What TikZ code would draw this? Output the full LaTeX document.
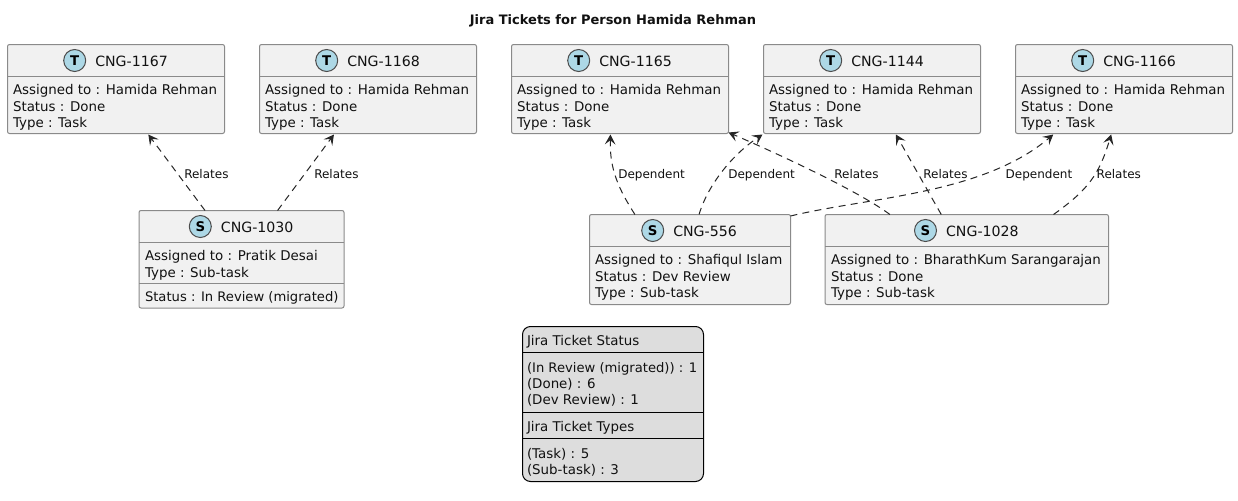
\documentclass[tikz,border=0pt]{standalone}
\usepackage{fontspec}
\setmainfont{DejaVu Sans}
\usetikzlibrary{arrows.meta,calc}
\definecolor{boxfill}{HTML}{F1F1F1}
\definecolor{boxline}{HTML}{8A8A8A}
\definecolor{legfill}{HTML}{DDDDDD}
\definecolor{spot}{HTML}{ADD8E6}
\definecolor{ink}{HTML}{111111}
\newcommand{\bodyfont}{\fontsize{10.05pt}{12pt}\selectfont}
\newcommand{\tightfont}{\fontsize{9.85pt}{12pt}\selectfont}
\newcommand{\headfont}{\fontsize{10.6pt}{12pt}\selectfont}
\newcommand{\edgefont}{\fontsize{9pt}{10pt}\selectfont}
\tikzset{
  x=0.75pt,y=-0.75pt,
  ticketbox/.style={draw=boxline,fill=boxfill,rounded corners=1.5pt,line width=0.75pt,inner sep=0pt,outer sep=0pt},
  legbox/.style={draw=black,fill=legfill,rounded corners=6pt,line width=0.75pt,inner sep=0pt,outer sep=0pt},
  txt/.style={anchor=base west,inner sep=0pt,outer sep=0pt,text=ink,font=\bodyfont},
  headtxt/.style={txt,font=\headfont},
  edgelabel/.style={anchor=base west,inner sep=0pt,outer sep=0pt,text=ink,font=\edgefont},
  spotc/.style={circle,draw=black!70,fill=spot,line width=0.75pt,minimum size=16.5pt,inner sep=0pt,font=\bfseries\fontsize{10pt}{12pt}\selectfont},
  link/.style={draw=black!85,line width=0.75pt,dash pattern=on 5.2pt off 4pt,-{Stealth[length=7.5pt,width=8pt,inset=3.2pt]}},
}
% name, letter, title, x0, x1, y0, y1, header line y, circle x
\newcommand{\ticket}[9]{%
  \node[ticketbox,anchor=north west,minimum width={(#5-#4)*0.75pt},minimum height={(#7-#6)*0.75pt}] (#1) at (#4,#6) {};
  \draw[boxline,line width=0.75pt] (#4,#8) -- (#5,#8);
  \node[spotc] (#1c) at (#9,#6+16) {#2};
  \node[headtxt] (#1t) at (#9+20.6,#6+21.6) {#3};
}
\newcommand{\tline}[4]{\node[txt] (#1) at (#2,#3) {#4};}
\begin{document}
\begin{tikzpicture}
\useasboundingbox (0,0) rectangle (1238,500);
\fill[white] (0,0) rectangle (1238,500);
\node[anchor=base,inner sep=0pt,text=ink,font=\bfseries\fontsize{9.75pt}{11pt}\selectfont] (title) at (613,24) {Jira Tickets for Person Hamida Rehman};

\ticket{a}{T}{CNG-1167}{7.5}{224.5}{44.5}{133.5}{76.5}{74.7}
\tline{a1}{13}{94.3}{Assigned to : Hamida Rehman}\tline{a2}{13}{111}{Status : Done}\tline{a3}{13}{127}{Type : Task}
\ticket{b}{T}{CNG-1168}{259.5}{476.5}{44.5}{133.5}{76.5}{326.7}
\tline{b1}{265}{94.3}{Assigned to : Hamida Rehman}\tline{b2}{265}{111}{Status : Done}\tline{b3}{265}{127}{Type : Task}
\ticket{c}{T}{CNG-1165}{511.5}{728.5}{44.5}{133.5}{76.5}{578.7}
\tline{c1}{517}{94.3}{Assigned to : Hamida Rehman}\tline{c2}{517}{111}{Status : Done}\tline{c3}{517}{127}{Type : Task}
\ticket{d}{T}{CNG-1144}{763.5}{980.5}{44.5}{133.5}{76.5}{830.7}
\tline{d1}{769}{94.3}{Assigned to : Hamida Rehman}\tline{d2}{769}{111}{Status : Done}\tline{d3}{769}{127}{Type : Task}
\ticket{e}{T}{CNG-1166}{1015.5}{1232.5}{44.5}{133.5}{76.5}{1082.7}
\tline{e1}{1021}{94.3}{Assigned to : Hamida Rehman}\tline{e2}{1021}{111}{Status : Done}\tline{e3}{1021}{127}{Type : Task}

\ticket{f}{S}{CNG-1030}{139}{344}{210.5}{308}{242.5}{200.3}
\draw[boxline,line width=0.75pt] (139,283.5) -- (344,283.5);
\tline{f1}{145}{260.5}{Assigned to : Pratik Desai}\tline{f2}{145}{277}{Type : Sub-task}\tline{f3}{145}{301}{\tightfont Status : In Review (migrated)}
\ticket{g}{S}{CNG-556}{589.5}{790.5}{214.5}{304.5}{246.5}{652.7}
\tline{g1}{595}{264.3}{Assigned to : Shafiqul Islam}\tline{g2}{595}{281}{Status : Dev Review}\tline{g3}{595}{297}{Type : Sub-task}
\ticket{h}{S}{CNG-1028}{825}{1108.5}{214.5}{304.5}{246.5}{925.5}
\tline{h1}{831}{264.3}{Assigned to : BharathKum Sarangarajan}\tline{h2}{831}{281}{Status : Done}\tline{h3}{831}{297}{Type : Sub-task}

\node[legbox,anchor=north west,minimum width={181*0.75pt},minimum height={155*0.75pt}] (leg) at (522.5,326.5) {};
\draw[black,line width=0.75pt] (522.5,352.3) -- (703.5,352.3) (522.5,412.3) -- (703.5,412.3) (522.5,438.3) -- (703.5,438.3);
\tline{l1}{527}{345}{Jira Ticket Status}
\tline{l2}{527}{372}{\tightfont (In Review (migrated)) : 1}
\tline{l3}{527}{388.5}{(Done) : 6}
\tline{l4}{527}{404.5}{(Dev Review) : 1}
\tline{l5}{527}{431}{Jira Ticket Types}
\tline{l6}{527}{458}{(Task) : 5}
\tline{l7}{527}{474.5}{(Sub-task) : 3}

% connectors: node to node, at fractions along the box edges
\draw[link] ($(f.north west)!0.322!(f.north east)$) -- ($(a.south west)!0.649!(a.south east)+(0,1)$);
\draw[link] ($(f.north west)!0.676!(f.north east)$) -- ($(b.south west)!0.343!(b.south east)+(0,1)$);
\draw[link] ($(g.north west)!0.226!(g.north east)$) .. controls +(-16,-25) and +(-1,35) .. ($(c.south west)!0.456!(c.south east)+(0,1)$);
\draw[link] ($(g.north west)!0.545!(g.north east)$) .. controls +(9,-30) and +(-30,20) .. ($(d.south west)+(-1,1)$);
\draw[link] ($(h.north west)!0.229!(h.north east)$) .. controls +(-35,-26) and +(35,15) .. ($(c.south east)+(0,-1)$);
\draw[link] ($(h.north west)!0.41!(h.north east)$) -- ($(d.south west)!0.61!(d.south east)+(0,1)$);
\draw[link] ($(g.north east)+(0,1.5)$) .. controls +(79,-19) and +(-71,60) .. ($(e.south west)!0.174!(e.south east)+(0,1)$);
\draw[link] ($(h.north west)!0.806!(h.north east)$) .. controls +(35,-25) and +(-12,40) .. ($(e.south west)!0.441!(e.south east)+(0,1)$);

\node[edgelabel] (r1) at (184.3,178) {Relates};
\node[edgelabel] (r2) at (314.3,178) {Relates};
\node[edgelabel] (r3) at (618.3,178) {Dependent};
\node[edgelabel] (r4) at (728.3,178) {Dependent};
\node[edgelabel] (r5) at (834.3,178) {Relates};
\node[edgelabel] (r6) at (923.3,178) {Relates};
\node[edgelabel] (r7) at (1005.7,178) {Dependent};
\node[edgelabel] (r8) at (1096.7,178) {Relates};
\end{tikzpicture}
\end{document}
